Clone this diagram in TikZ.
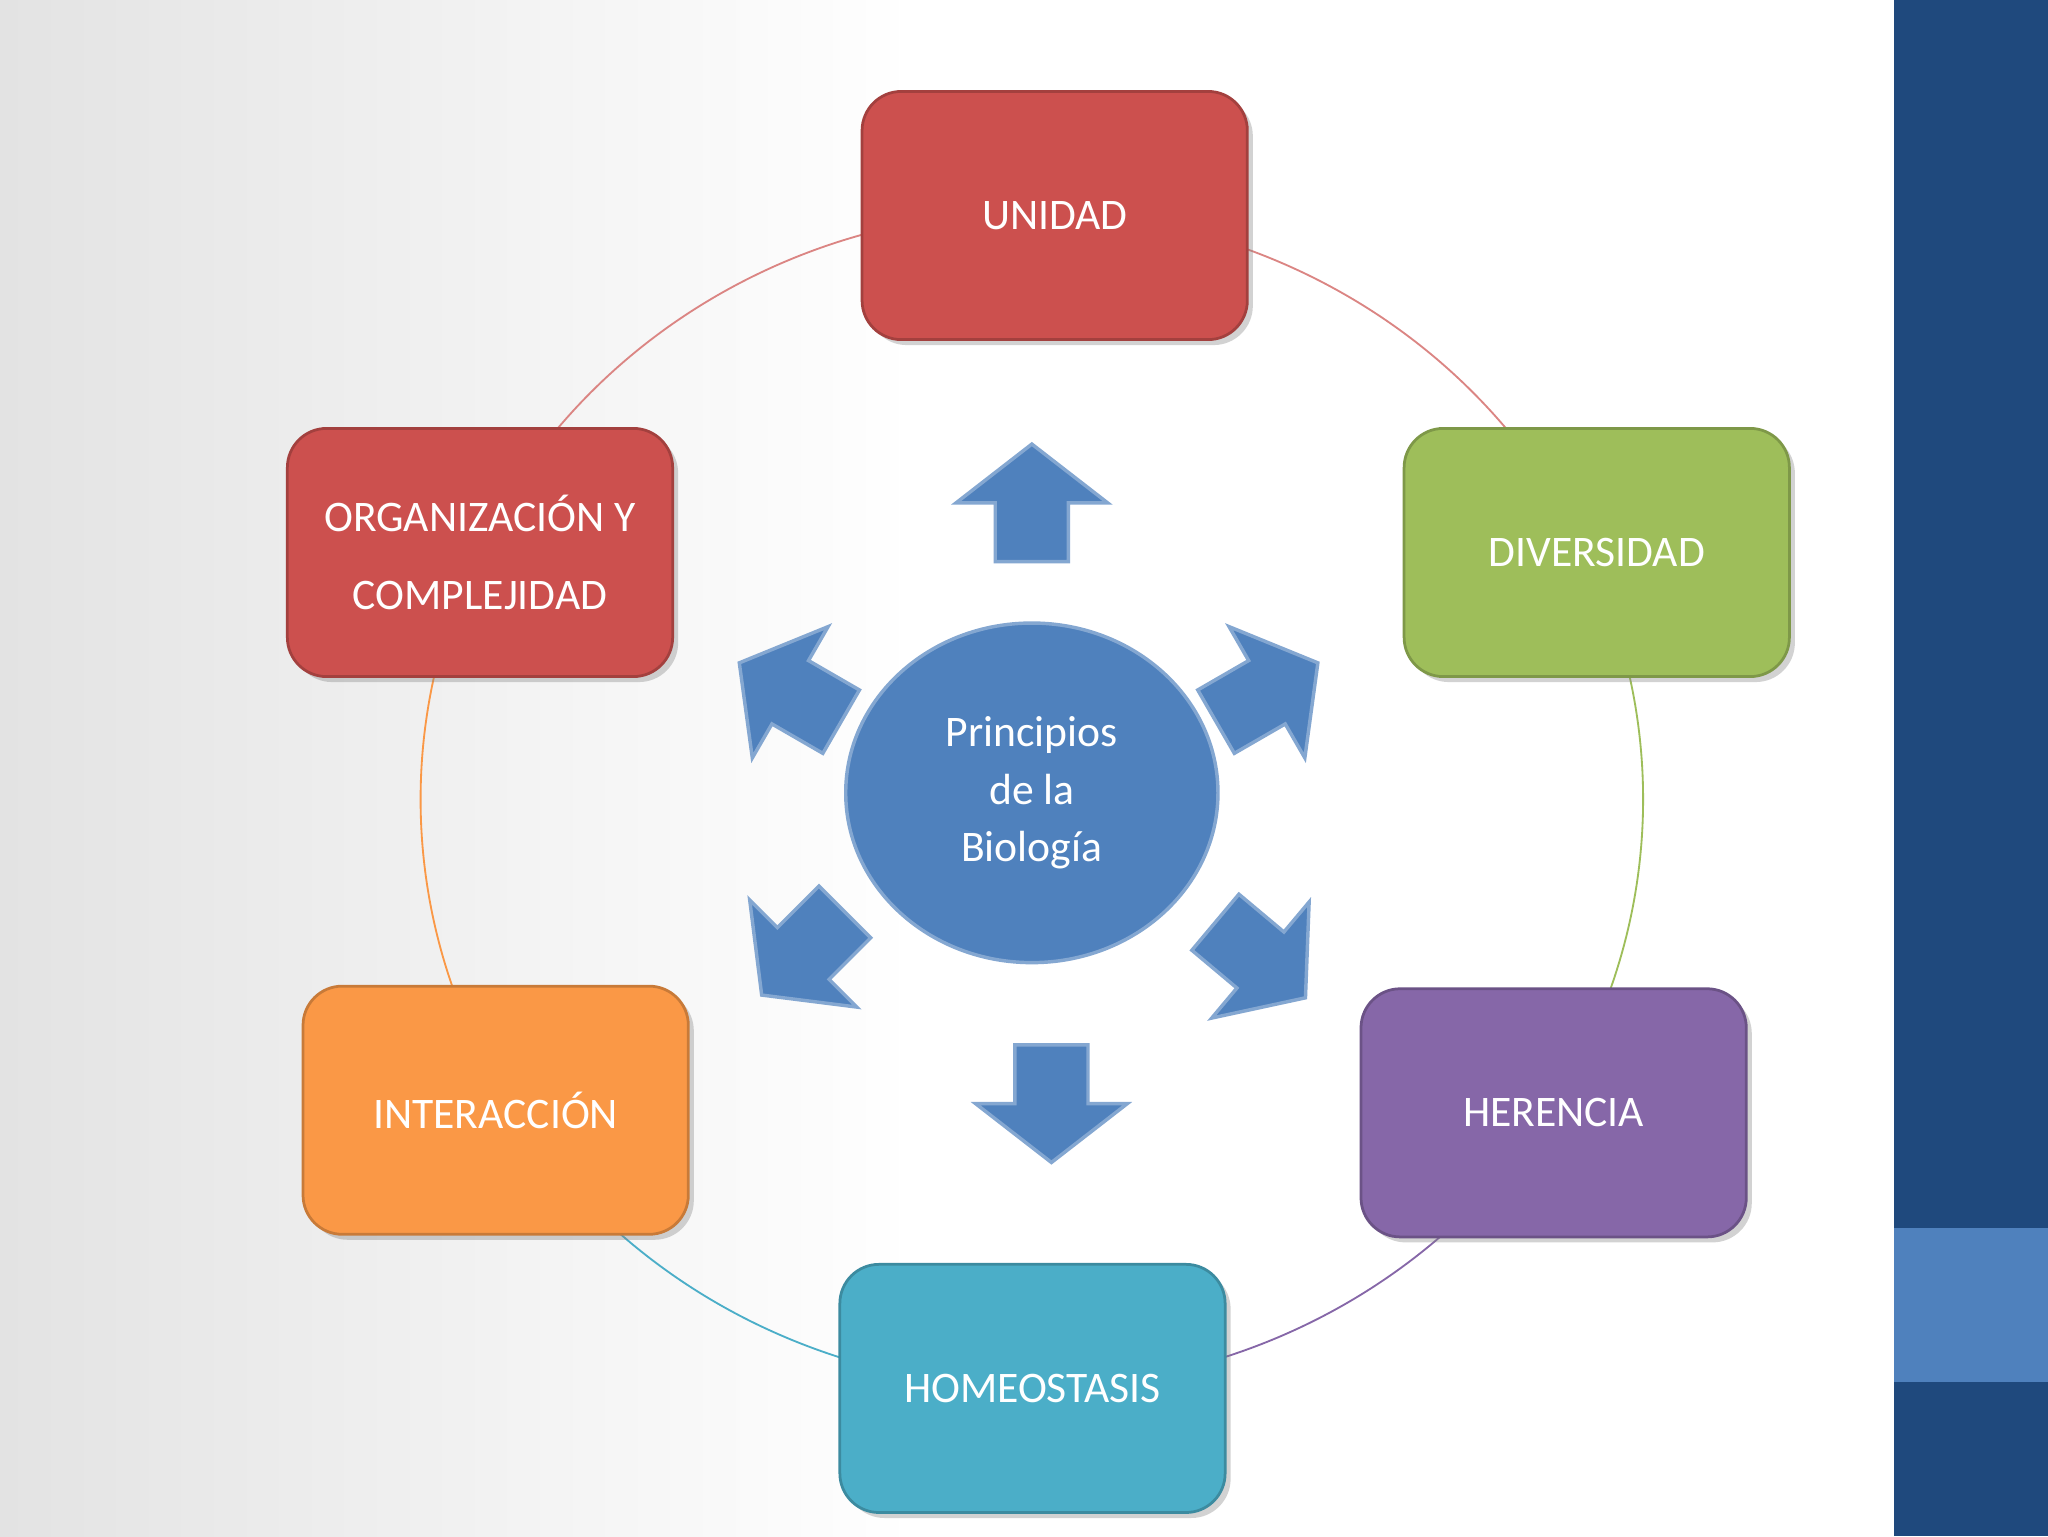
\documentclass[tikz,border=0pt]{standalone}
\usepackage{fontspec}
\setmainfont{Carlito}
\usetikzlibrary{shadows,shapes.geometric}
\definecolor{cred}{RGB}{204,80,78}
\definecolor{cgreen}{RGB}{158,190,90}
\definecolor{cpurple}{RGB}{134,103,168}
\definecolor{cteal}{RGB}{75,174,200}
\definecolor{corange}{RGB}{250,152,70}
\definecolor{cblue}{RGB}{79,129,189}
\definecolor{cdark}{RGB}{31,73,125}
\tikzset{
  pbox/.style={rounded corners=0.6cm, minimum width=5.9cm, minimum height=3.8cm, text=white,
    font=\fontsize{19}{34}\selectfont, align=center, line width=1.2pt, drop shadow={opacity=0.35}},
  barrow/.style={fill=cblue, draw=cblue!70!white, line width=1.5pt},
  ring/.style={line width=0.8pt}
}
\begin{document}
\begin{tikzpicture}
\useasboundingbox (0,0) rectangle (31.36,-23.52);
\shade[left color=gray!22, right color=white] (0,0) rectangle (14,-23.52);
\fill[white] (14,0) rectangle (29,-23.52);
\fill[cdark] (29,0) rectangle (31.36,-23.52);
\fill[cblue] (29,-18.8) rectangle (31.36,-21.16);
% ring
\begin{scope}[shift={(15.8,-12.24)}]
\draw[ring,cred!70] (90:9.36 and 9.0) arc[start angle=90,end angle=30,x radius=9.36,y radius=9.0];
\draw[ring,cgreen] (30:9.36 and 9.0) arc[start angle=30,end angle=-30,x radius=9.36,y radius=9.0];
\draw[ring,cpurple] (-30:9.36 and 9.0) arc[start angle=-30,end angle=-90,x radius=9.36,y radius=9.0];
\draw[ring,cteal] (-90:9.36 and 9.0) arc[start angle=-90,end angle=-150,x radius=9.36,y radius=9.0];
\draw[ring,corange] (-150:9.36 and 9.0) arc[start angle=-150,end angle=-210,x radius=9.36,y radius=9.0];
\draw[ring,cred!70] (150:9.36 and 9.0) arc[start angle=150,end angle=90,x radius=9.36,y radius=9.0];
\end{scope}
% boxes
\node[pbox, fill=cred, draw=cred!80!black] (uni) at (16.15,-3.3) {UNIDAD};
\node[pbox, fill=cgreen, draw=cgreen!80!black] (div) at (24.45,-8.46) {DIVERSIDAD};
\node[pbox, fill=cpurple, draw=cpurple!80!black] (her) at (23.79,-17.04) {HERENCIA};
\node[pbox, fill=cteal, draw=cteal!80!black] (hom) at (15.81,-21.26) {HOMEOSTASIS};
\node[pbox, fill=corange, draw=corange!80!black] (int) at (7.59,-17.0) {INTERACCIÓN};
\node[pbox, fill=cred, draw=cred!80!black] (org) at (7.35,-8.46) {ORGANIZACIÓN Y\\COMPLEJIDAD};
% center
\node[ellipse, draw=cblue!70!white, fill=cblue, line width=1.5pt, minimum width=5.7cm, minimum height=5.2cm,
  text=white, align=center, font=\fontsize{19}{19}\selectfont] (c) at (15.8,-12.14)
  {Principios\\[6pt]de la\\[6pt]Biología};
% arrows
\foreach \px/\py/\a in {15.8/-7.7/90, 16.1/-16.9/-90, 19.4/-10.6/30, 12.1/-10.6/150, 12.3/-14.6/-135, 19.3/-14.7/-40}{
  \begin{scope}[shift={(\px,\py)}, rotate=\a, x=0.02cm, y=0.02cm]
    \draw[barrow] (-45,-28) -- (0,-28) -- (0,-58) -- (45,0) -- (0,58) -- (0,28) -- (-45,28) -- cycle;
  \end{scope}
}
\end{tikzpicture}
\end{document}
